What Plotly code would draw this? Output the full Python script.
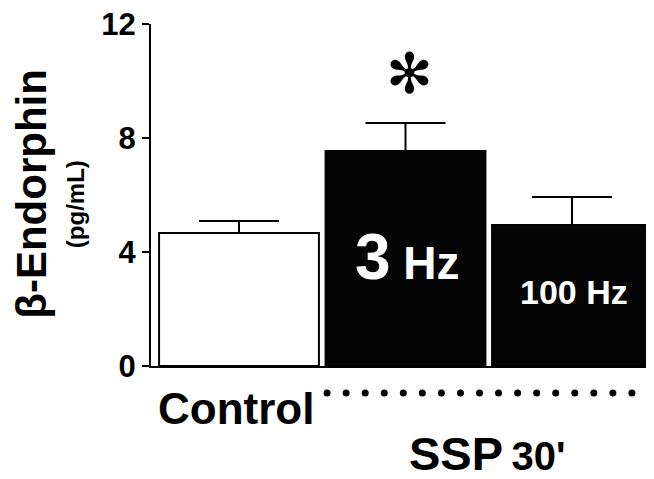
import numpy as np
import plotly.graph_objects as go

# ---- data ----
groups = ["Control", "3 Hz", "100 Hz"]
means = [4.67, 7.54, 4.95]
sem = [0.42, 0.99, 0.98]
y_ticks = [0, 4, 8, 12]

FONT = "Liberation Sans"
xpos = list(range(len(groups)))
SPLIT = 0.24835  # fraction of plot height used by the label band under the bars

fig = go.Figure()
fig.add_trace(go.Bar(
    x=xpos, y=means, width=0.96,
    marker=dict(color=["white", "#050505", "#050505"],
                line=dict(color="black", width=2)),
    error_y=dict(type="data", array=sem, arrayminus=[0] * len(sem),
                 symmetric=False, width=40, thickness=2, color="black"),
    showlegend=False, hoverinfo="skip", xaxis="x", yaxis="y",
))

# dotted bracket under the SSP groups (in the label band)
dots_x = np.linspace(0.529, 2.36, 17)
fig.add_trace(go.Scatter(
    x=dots_x, y=[-0.95] * len(dots_x), mode="markers",
    marker=dict(color="black", size=7),
    showlegend=False, hoverinfo="skip", xaxis="x2", yaxis="y2",
))

ann = [
    dict(x=1.01, y=3.84, xref="x", yref="y", showarrow=False,
         xanchor="center", yanchor="middle",
         text="<span style='font-size:64px'>3</span><span style='font-size:46px'>\u00a0Hz</span>",
         font=dict(family=FONT, color="white", weight="bold")),
    dict(x=2.01, y=2.6, xref="x", yref="y", showarrow=False,
         xanchor="center", yanchor="middle",
         text="100 Hz", font=dict(family=FONT, size=34, color="white", weight="bold")),
    dict(x=1.024, y=10.25, xref="x", yref="y", showarrow=False,
         xanchor="center", yanchor="middle",
         text="✻", font=dict(family="DejaVu Sans", size=56, color="black")),
    dict(x=-0.02, y=-1.48, xref="x2", yref="y2", showarrow=False,
         xanchor="center", yanchor="middle",
         text="Control", font=dict(family=FONT, size=44, color="black", weight="bold")),
    dict(x=1.49, y=-3.06, xref="x2", yref="y2", showarrow=False,
         xanchor="center", yanchor="middle",
         text="<span style='font-size:47px'>SSP</span><span style='font-size:30px'>\u00a0</span><span style='font-size:40px'>30'</span>",
         font=dict(family=FONT, color="black", weight="bold")),
    dict(x=0, y=0.627, xref="paper", yref="paper", xshift=-119, textangle=-90,
         xanchor="center", yanchor="middle", showarrow=False, text="β-Endorphin",
         font=dict(family=FONT, size=42, color="black", weight="bold")),
    dict(x=0, y=0.604, xref="paper", yref="paper", xshift=-76, textangle=-90,
         xanchor="center", yanchor="middle", showarrow=False, text="(pg/mL)",
         font=dict(family=FONT, size=24, color="black", weight="bold")),
]

fig.update_layout(
    width=646, height=471,
    margin=dict(l=143, r=0, t=16, b=0, pad=0, autoexpand=False),
    paper_bgcolor="white", plot_bgcolor="white",
    annotations=ann,
    xaxis=dict(range=[-0.5285, 2.4925], showticklabels=False, ticks="",
               showgrid=False, zeroline=False, showline=True, automargin=False,
               linecolor="black", linewidth=2, anchor="y"),
    yaxis=dict(range=[0, 12], domain=[SPLIT, 1], tickvals=y_ticks,
               ticks="outside", ticklen=7, tickwidth=2, tickcolor="black",
               showgrid=False, zeroline=False, showline=True, automargin=False,
               ticklabeloverflow="allow",
               linecolor="black", linewidth=2, anchor="x",
               tickfont=dict(family=FONT, size=31, color="black", weight="bold")),
    xaxis2=dict(matches="x", anchor="y2", visible=False, automargin=False),
    yaxis2=dict(range=[-3.965, 0], domain=[0, SPLIT], anchor="x2",
                visible=False, automargin=False),
)
fig.write_html("out.html")
